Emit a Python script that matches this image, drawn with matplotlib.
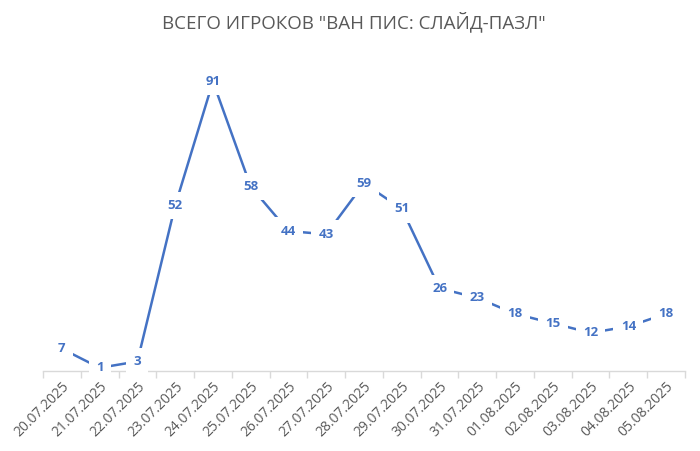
import matplotlib
matplotlib.use('Agg')
import matplotlib.pyplot as plt
import numpy as np

# даты и значения
dates = ['20.07.2025', '21.07.2025', '22.07.2025', '23.07.2025', '24.07.2025',
         '25.07.2025', '26.07.2025', '27.07.2025', '28.07.2025', '29.07.2025',
         '30.07.2025', '31.07.2025', '01.08.2025', '02.08.2025', '03.08.2025',
         '04.08.2025', '05.08.2025']
players = [7, 1, 3, 52, 91, 58, 44, 43, 59, 51, 26, 23, 18, 15, 12, 14, 18]

plt.rcParams['font.family'] = ['Open Sans', 'DejaVu Sans']

line_color = '#4472C4'
text_gray = '#595959'

fig = plt.figure(figsize=(7, 4.51), dpi=100)
ax = fig.add_axes([0.0614, 0.1774, 0.9172, 0.7051])

x = np.arange(len(dates))
ax.plot(x, players, color=line_color, linewidth=1.8, solid_capstyle='butt')

# подписи данных по центру точки, с белым фоном
for xi, v in zip(x, players):
    ax.text(xi, v, str(v), ha='center', va='center', fontsize=9.5, fontweight='bold',
            color=line_color,
            bbox=dict(boxstyle='square,pad=0.55', fc='white', ec='none'))

ax.set_xlim(-0.5, len(dates) - 0.5)
ax.set_ylim(0, 100)

ax.set_xticks(x)
ax.set_xticklabels(dates, rotation=45, ha='right', rotation_mode='anchor',
                   fontsize=10, color=text_gray)
ax.tick_params(axis='x', which='major', length=0, pad=6)
ax.set_xticks(np.arange(-0.5, len(dates), 1.0), minor=True)
ax.tick_params(axis='x', which='minor', length=5, color='#d9d9d9', width=1)

ax.set_yticks([])
for s in ['top', 'right', 'left']:
    ax.spines[s].set_visible(False)
ax.spines['bottom'].set_color('#d9d9d9')
ax.spines['bottom'].set_linewidth(1)

fig.text(0.505, 0.952, 'ВСЕГО ИГРОКОВ "ВАН ПИС: СЛАЙД-ПАЗЛ"', ha='center', va='center',
         fontsize=13.5, color=text_gray)

fig.savefig('out.png', dpi=100)
